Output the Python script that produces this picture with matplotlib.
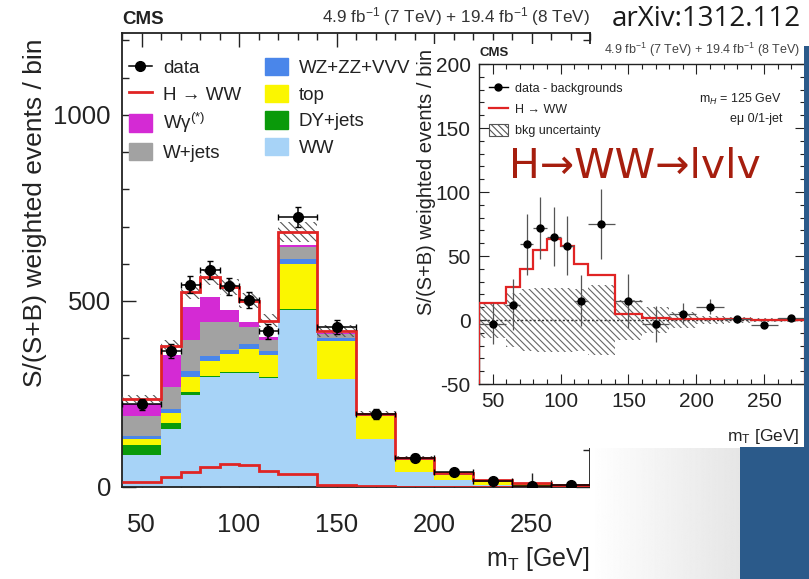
import numpy as np
import matplotlib
matplotlib.use('Agg')
import matplotlib.pyplot as plt
from matplotlib.patches import Rectangle, Patch
from matplotlib.lines import Line2D
from matplotlib.ticker import MultipleLocator

plt.rcParams['font.family'] = ['Liberation Sans', 'DejaVu Sans']
plt.rcParams['mathtext.fontset'] = 'custom'
plt.rcParams['mathtext.rm'] = 'Liberation Sans'
plt.rcParams['mathtext.it'] = 'Liberation Sans:italic'
plt.rcParams['hatch.linewidth'] = 0.8
plt.rcParams['axes.unicode_minus'] = False

# ---------------- data ----------------
edges = [40, 60, 70, 80, 90, 100, 110, 120, 140, 160, 180, 200, 220, 240, 260, 280]
centers = [50, 65, 75, 85, 95, 105, 115, 130, 150, 170, 190, 210, 230, 250, 270]

ww     = [86, 157, 247, 296, 306, 306, 294, 475, 289, 130, 41, 19, 5, 2, 1]
dyjets = [27, 14, 9, 3, 2, 2, 2, 2, 1, 0, 0, 0, 0, 0, 0]
top    = [17, 27, 40, 39, 50, 64, 58, 123, 101, 60, 31, 13, 9, 6, 4]
vvv    = [8, 11, 15, 14, 11, 11, 11, 13, 9, 3, 2, 2, 1, 0.5, 0.5]
wjets  = [52, 60, 83, 91, 74, 47, 29, 33, 12, 2, 2, 2, 1, 0.5, 0.5]
wgamma = [34, 85, 91, 67, 32, 13, 9, 5, 2, 1, 1, 1, 1, 0.3, 0.3]
higgs  = [13, 26, 40, 55, 63, 58, 44, 35, 5, 1.5, 1, 0.8, 0.5, 0.3, 0.3]
data     = [222, 365, 543, 584, 539, 503, 419, 726, 430, 196, 79, 41, 17, 3, 5]
data_err = [15, 19, 23, 24, 23, 22, 20, 27, 20, 14, 9, 6, 4, 2, 2]
tot_unc  = [11, 15, 21, 22, 21, 20, 17, 27, 16, 8, 4, 3, 2, 1, 1]

# inset: data - backgrounds
sub_vals = [-3, 12, 59, 72, 65, 58, 15, 75, 15, -3, 5, 10.5, 0.5, -4, 1.5]
sub_err  = [16, 20, 24, 24, 23, 23, 20, 27, 21, 14, 8, 6, 3, 2, 2]
bkg_unc  = [14, 21, 24, 25, 25, 25, 24, 27, 16, 10, 6, 3, 2, 1.5, 1.5]

colors = {
    'WW': '#a7d3f7', 'DY+jets': '#0a9a0a', 'top': '#fbf600',
    'WZ+ZZ+VVV': '#4a86ea', 'W+jets': '#a2a2a2', 'Wg': '#d42ad4',
}
RED = '#e02424'

W, H = 809, 579
fig = plt.figure(figsize=(W / 100, H / 100), dpi=100)

def fx(px):
    return px / W

def fy(py):
    return (H - py) / H

# ---------------- main axes ----------------
L, R, T, B = 122, 590, 33, 487
ax = fig.add_axes([fx(L), fy(B), (R - L) / W, (B - T) / H], zorder=0)
e = np.array(edges, float)
wid = np.diff(e)
left = e[:-1]
stack = [(ww, colors['WW']), (dyjets, colors['DY+jets']), (top, colors['top']),
         (vvv, colors['WZ+ZZ+VVV']), (wjets, colors['W+jets']), (wgamma, colors['Wg'])]
bottom = np.zeros(len(ww))
for vals, c in stack:
    v = np.array(vals, float)
    ax.bar(left, v, width=wid, bottom=bottom, align='edge', color=c, linewidth=0, zorder=2)
    bottom = bottom + v
hv = np.array(higgs, float)
ax.bar(left, hv, width=wid, bottom=bottom, align='edge', color='white', linewidth=0, zorder=2)
total = bottom + hv
unc = np.array(tot_unc, float)
ax.bar(left, 2 * unc, width=wid, bottom=total - unc, align='edge', fill=False,
       hatch='\\\\\\\\', edgecolor='#555555', linewidth=0, zorder=3)
ax.stairs(total, e, baseline=None, color=RED, linewidth=2.0, zorder=4)
ax.stairs(hv, e, baseline=None, color=RED, linewidth=2.0, zorder=4)
ax.errorbar(centers, data, yerr=data_err, xerr=wid / 2, fmt='o', color='black',
            ms=7, elinewidth=1.1, capsize=2.5, zorder=6)

ax.set_xlim(40, 280)
ax.set_ylim(0, 1220)
ax.xaxis.set_major_locator(MultipleLocator(50))
ax.xaxis.set_minor_locator(MultipleLocator(10))
ax.yaxis.set_major_locator(MultipleLocator(500))
ax.yaxis.set_minor_locator(MultipleLocator(100))
ax.tick_params(which='both', direction='in', top=True, right=True, labelsize=18.5,
               colors='#222222', width=1.0)
ax.tick_params(which='major', length=10, pad=8)
ax.tick_params(axis='x', which='major', pad=19)
ax.tick_params(which='minor', length=5)
for s in ax.spines.values():
    s.set_linewidth(1.3)
    s.set_color('#222222')
ax.set_ylabel('S/(S+B) weighted events / bin', fontsize=19, color='#222222')
ax.yaxis.set_label_coords((47 - L) / (R - L), (B - 213) / (B - T))
ax.set_xlabel(r'm$_{\mathrm{T}}$ [GeV]', fontsize=18, color='#222222', loc='right')
ax.xaxis.set_label_coords(1.0, -(545 - B) / (B - T))
ax.text(0.0, 1.012, 'CMS', transform=ax.transAxes, fontsize=13.5, fontweight='bold',
        ha='left', va='bottom', color='#222222')
ax.text(1.0, 1.012, r'4.9 fb$^{-1}$ (7 TeV) + 19.4 fb$^{-1}$ (8 TeV)', transform=ax.transAxes,
        fontsize=12.3, ha='right', va='bottom', color='#333333')

# main legend (two columns)
h_data = Line2D([], [], color='black', marker='o', ms=7, lw=1.1)
h_h = Line2D([], [], color=RED, lw=2)
col1 = [(h_data, 'data'), (h_h, 'H → WW'),
        (Patch(color=colors['Wg']), 'Wγ$^{(*)}$'), (Patch(color=colors['W+jets']), 'W+jets')]
col2 = [(Patch(color=colors['WZ+ZZ+VVV']), 'WZ+ZZ+VVV'), (Patch(color=colors['top']), 'top'),
        (Patch(color=colors['DY+jets']), 'DY+jets'), (Patch(color=colors['WW']), 'WW')]
kw = dict(frameon=False, fontsize=13.5, loc='upper left', borderpad=0, borderaxespad=0,
          handlelength=1.2, handleheight=1.05, handletextpad=0.6, labelspacing=0.4,
          labelcolor='#222222')
leg1 = ax.legend([h for h, _ in col1], [t for _, t in col1],
                 bbox_to_anchor=((129 - L) / (R - L), (B - 58) / (B - T)), **kw)
ax.add_artist(leg1)
ax.legend([h for h, _ in col2], [t for _, t in col2],
          bbox_to_anchor=((265 - L) / (R - L), (B - 58) / (B - T)), **kw)

# ---------------- inset ----------------
fig.patches.append(Rectangle((fx(418), fy(448)), (805 - 418) / W, (448 - 44) / H,
                             transform=fig.transFigure, facecolor='white',
                             edgecolor='none', zorder=1))
iL, iR, iT, iB = 479, 805, 64, 384
ax2 = fig.add_axes([fx(iL), fy(iB), (iR - iL) / W, (iB - iT) / H], zorder=2)
bu = np.array(bkg_unc, float)
ax2.bar(left, 2 * bu, width=wid, bottom=-bu, align='edge', fill=False,
        hatch='\\\\\\\\\\', edgecolor='#666666', linewidth=0, zorder=2)
ax2.axhline(0, color='#333333', lw=1.0, ls=(0, (1.5, 1.5)), zorder=3)
ax2.stairs(hv, e, baseline=-50, color=RED, linewidth=1.6, zorder=4)
ax2.errorbar(centers, sub_vals, yerr=sub_err, xerr=wid / 2, fmt='o', color='black',
             ecolor='#555555', ms=5, elinewidth=0.9, capsize=0, zorder=5)
ax2.set_xlim(40, 280)
ax2.set_ylim(-50, 200)
ax2.xaxis.set_major_locator(MultipleLocator(50))
ax2.xaxis.set_minor_locator(MultipleLocator(10))
ax2.yaxis.set_major_locator(MultipleLocator(50))
ax2.yaxis.set_minor_locator(MultipleLocator(10))
ax2.tick_params(which='both', direction='in', top=True, right=True, labelsize=15,
                colors='#222222', width=0.8)
ax2.tick_params(which='major', length=7, pad=6)
ax2.tick_params(which='minor', length=3.5)
for s in ax2.spines.values():
    s.set_linewidth(1.0)
    s.set_color('#222222')
ax2.set_ylabel('S/(S+B) weighted events / bin', fontsize=14.5, color='#222222')
ax2.yaxis.set_label_coords((436 - iL) / (iR - iL), (iB - 182) / (iB - iT))
ax2.set_xlabel(r'm$_{\mathrm{T}}$ [GeV]', fontsize=12.5, color='#222222', loc='right')
ax2.xaxis.set_label_coords((800 - iL) / (iR - iL), -(427 - iB) / (iB - iT))
ax2.text(0.0, 1.015, 'CMS', transform=ax2.transAxes, fontsize=9.5, fontweight='bold',
         ha='left', va='bottom', color='#222222')
ax2.text(0.985, 1.015, r'4.9 fb$^{-1}$ (7 TeV) + 19.4 fb$^{-1}$ (8 TeV)', transform=ax2.transAxes,
         fontsize=9, ha='right', va='bottom', color='#444444')
ih = [Line2D([], [], color='black', marker='o', ms=5, lw=1),
      Line2D([], [], color=RED, lw=1.6),
      Patch(facecolor='white', edgecolor='#555555', hatch='\\\\\\\\\\', lw=0.8)]
ax2.legend(ih, ['data - backgrounds', 'H → WW', 'bkg uncertainty'], frameon=False,
           fontsize=9, loc='upper left', borderpad=0, borderaxespad=0,
           bbox_to_anchor=((489 - iL) / (iR - iL), (iB - 82) / (iB - iT)),
           handlelength=1.5, handleheight=1.1, handletextpad=0.6, labelspacing=0.6,
           labelcolor='#222222')
ax2.text((782 - iL) / (iR - iL), (iB - 99) / (iB - iT), r'm$_{H}$ = 125 GeV',
         transform=ax2.transAxes, fontsize=9, ha='right', va='center', color='#222222')
ax2.text((782 - iL) / (iR - iL), (iB - 119) / (iB - iT), 'eμ 0/1-jet',
         transform=ax2.transAxes, fontsize=9, ha='right', va='center', color='#222222')
fig.text(fx(509), fy(167), 'H→WW→lvlv', fontsize=29.5, color='#a61e0e',
         family=['DejaVu Sans'], ha='left', va='center', zorder=4)

# ---------------- slide decorations ----------------
gax = fig.add_axes([fx(590), 0, (740 - 590) / W, (H - 448) / H], zorder=1)
grad = np.linspace(1.0, 0.9, 256).reshape(1, -1)
gax.imshow(grad, cmap='gray', vmin=0, vmax=1, aspect='auto', extent=(0, 1, 0, 1))
gax.axis('off')
blue = '#2b5a8a'
fig.patches.append(Rectangle((fx(804), 0), 5 / W, fy(46), transform=fig.transFigure,
                             facecolor=blue, edgecolor='none', zorder=5))
fig.patches.append(Rectangle((fx(740), 0), 69 / W, fy(447), transform=fig.transFigure,
                             facecolor=blue, edgecolor='none', zorder=5))
fig.text(fx(612), fy(19), 'arXiv:1312.112', fontsize=20, color='#1a1a1a',
         family=['Open Sans', 'DejaVu Sans'], ha='left', va='center', zorder=6)

fig.savefig('out.png', dpi=100)
